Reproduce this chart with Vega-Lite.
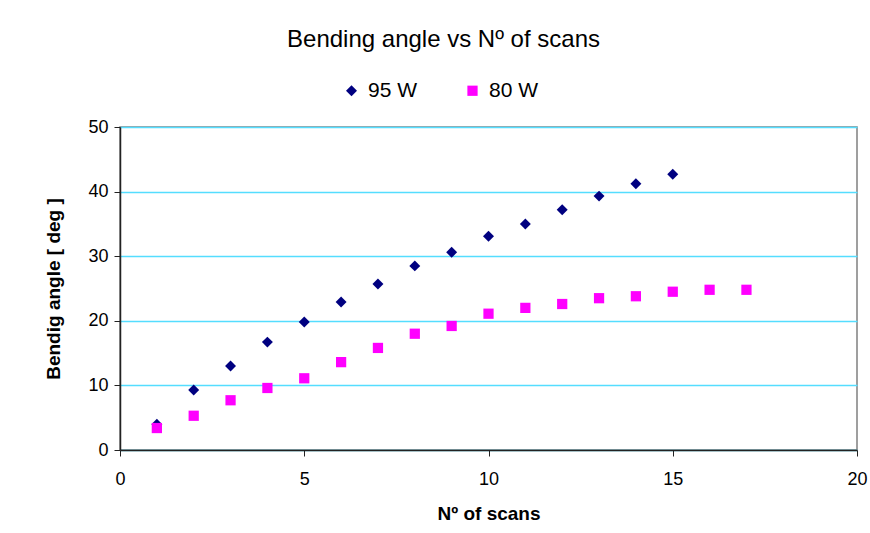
{
  "$schema": "https://vega.github.io/schema/vega-lite/v6.json",
  "autosize": {"type": "none"},
  "width": 737,
  "height": 323,
  "padding": {"left": 120, "top": 127, "right": 13, "bottom": 83},
  "background": "white",
  "title": {
    "text": "Bending angle vs Nº of scans",
    "font": "Liberation Sans",
    "fontSize": 24,
    "fontWeight": "normal",
    "color": "black",
    "anchor": "middle",
    "dx": -45,
    "offset": 28
  },
  "data": {
    "values": [
      {"scans": 1, "angle": 4.0, "series": "95 W"},
      {"scans": 2, "angle": 9.3, "series": "95 W"},
      {"scans": 3, "angle": 13.0, "series": "95 W"},
      {"scans": 4, "angle": 16.7, "series": "95 W"},
      {"scans": 5, "angle": 19.8, "series": "95 W"},
      {"scans": 6, "angle": 22.9, "series": "95 W"},
      {"scans": 7, "angle": 25.7, "series": "95 W"},
      {"scans": 8, "angle": 28.5, "series": "95 W"},
      {"scans": 9, "angle": 30.6, "series": "95 W"},
      {"scans": 10, "angle": 33.1, "series": "95 W"},
      {"scans": 11, "angle": 35.0, "series": "95 W"},
      {"scans": 12, "angle": 37.2, "series": "95 W"},
      {"scans": 13, "angle": 39.3, "series": "95 W"},
      {"scans": 14, "angle": 41.2, "series": "95 W"},
      {"scans": 15, "angle": 42.7, "series": "95 W"},
      {"scans": 1, "angle": 3.4, "series": "80 W"},
      {"scans": 2, "angle": 5.3, "series": "80 W"},
      {"scans": 3, "angle": 7.7, "series": "80 W"},
      {"scans": 4, "angle": 9.6, "series": "80 W"},
      {"scans": 5, "angle": 11.1, "series": "80 W"},
      {"scans": 6, "angle": 13.6, "series": "80 W"},
      {"scans": 7, "angle": 15.8, "series": "80 W"},
      {"scans": 8, "angle": 18.0, "series": "80 W"},
      {"scans": 9, "angle": 19.2, "series": "80 W"},
      {"scans": 10, "angle": 21.1, "series": "80 W"},
      {"scans": 11, "angle": 22.0, "series": "80 W"},
      {"scans": 12, "angle": 22.6, "series": "80 W"},
      {"scans": 13, "angle": 23.5, "series": "80 W"},
      {"scans": 14, "angle": 23.8, "series": "80 W"},
      {"scans": 15, "angle": 24.5, "series": "80 W"},
      {"scans": 16, "angle": 24.8, "series": "80 W"},
      {"scans": 17, "angle": 24.8, "series": "80 W"}
    ]
  },
  "mark": {"type": "point", "filled": true, "opacity": 1},
  "encoding": {
    "x": {
      "field": "scans",
      "type": "quantitative",
      "scale": {"domain": [0, 20], "nice": false},
      "axis": {
        "values": [0, 5, 10, 15, 20],
        "grid": false,
        "title": "Nº of scans",
        "titleFont": "Liberation Sans",
        "titleFontSize": 19,
        "titleFontWeight": "bold",
        "titleColor": "black",
        "titlePadding": 16,
        "labelFont": "Liberation Sans",
        "labelFontSize": 18,
        "labelColor": "black",
        "labelPadding": 14,
        "domainColor": "#222222",
        "domainWidth": 1.5,
        "tickColor": "#222222",
        "tickSize": 6,
        "labelFlush": false
      }
    },
    "y": {
      "field": "angle",
      "type": "quantitative",
      "scale": {"domain": [0, 50], "nice": false},
      "axis": {
        "values": [0, 10, 20, 30, 40, 50],
        "grid": true,
        "gridColor": "#55DDFF",
        "gridWidth": 1.5,
        "title": "Bendig angle [ deg ]",
        "titleFont": "Liberation Sans",
        "titleFontSize": 19,
        "titleFontWeight": "bold",
        "titleColor": "black",
        "titlePadding": 24,
        "labelFont": "Liberation Sans",
        "labelFontSize": 18,
        "labelColor": "black",
        "labelPadding": 6,
        "domainColor": "#222222",
        "domainWidth": 1.5,
        "tickColor": "#222222",
        "tickSize": 6
      }
    },
    "color": {
      "field": "series",
      "type": "nominal",
      "scale": {"domain": ["95 W", "80 W"], "range": ["#000080", "#FF00FF"]},
      "legend": {
        "title": null,
        "orient": "none",
        "direction": "horizontal",
        "legendX": 221,
        "legendY": -47,
        "labelFont": "Liberation Sans",
        "labelFontSize": 21,
        "labelColor": "black",
        "columnPadding": 44,
        "symbolSize": 90,
        "labelOffset": 6
      }
    },
    "shape": {
      "field": "series",
      "type": "nominal",
      "scale": {"domain": ["95 W", "80 W"], "range": ["diamond", "square"]}
    },
    "size": {
      "field": "series",
      "type": "nominal",
      "scale": {"domain": ["95 W", "80 W"], "range": [120, 105]},
      "legend": null
    }
  },
  "config": {
    "view": {"stroke": "#808080", "strokeWidth": 1.5}
  }
}
